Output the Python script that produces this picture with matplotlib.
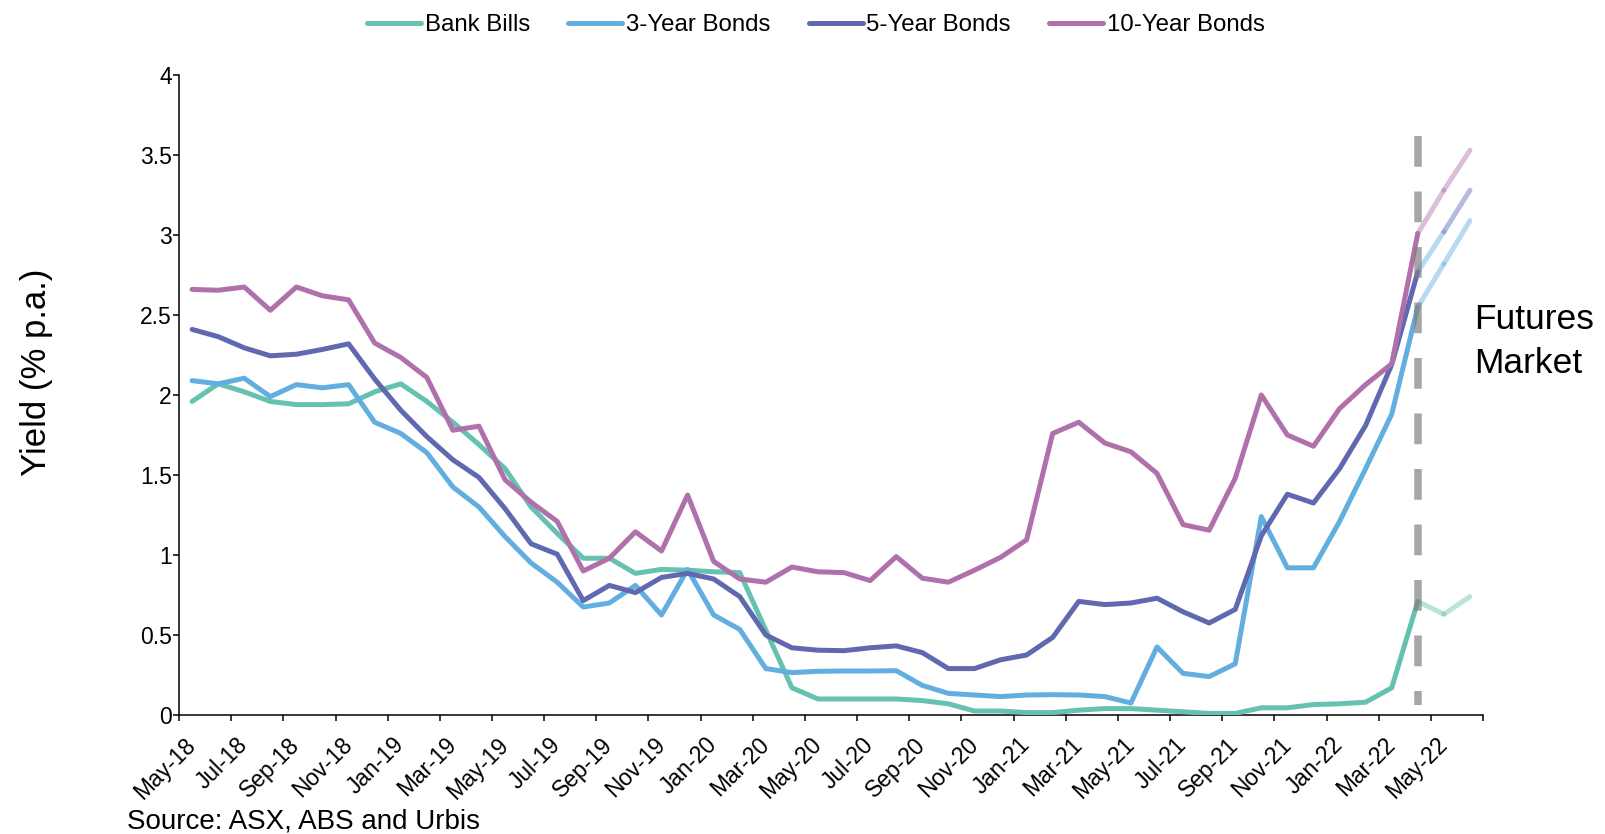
import numpy as np
import matplotlib.pyplot as plt

plt.rcParams['font.family'] = ['Liberation Sans', 'DejaVu Sans']

# Month-end yields, May-18 to Jun-22 (May-22 and Jun-22 are futures pricing)
months = ['May-18', 'Jun-18', 'Jul-18', 'Aug-18', 'Sep-18', 'Oct-18', 'Nov-18', 'Dec-18',
          'Jan-19', 'Feb-19', 'Mar-19', 'Apr-19', 'May-19', 'Jun-19', 'Jul-19', 'Aug-19',
          'Sep-19', 'Oct-19', 'Nov-19', 'Dec-19', 'Jan-20', 'Feb-20', 'Mar-20', 'Apr-20',
          'May-20', 'Jun-20', 'Jul-20', 'Aug-20', 'Sep-20', 'Oct-20', 'Nov-20', 'Dec-20',
          'Jan-21', 'Feb-21', 'Mar-21', 'Apr-21', 'May-21', 'Jun-21', 'Jul-21', 'Aug-21',
          'Sep-21', 'Oct-21', 'Nov-21', 'Dec-21', 'Jan-22', 'Feb-22', 'Mar-22', 'Apr-22',
          'May-22', 'Jun-22']

bank_bills = [1.96, 2.07, 2.02, 1.96, 1.94, 1.94, 1.945, 2.02, 2.07, 1.96,
              1.83, 1.69, 1.54, 1.30, 1.135, 0.98, 0.98, 0.885, 0.91, 0.905,
              0.895, 0.89, 0.53, 0.17, 0.10, 0.10, 0.10, 0.10, 0.09, 0.07,
              0.025, 0.025, 0.015, 0.015, 0.03, 0.04, 0.04, 0.03, 0.02, 0.01,
              0.01, 0.045, 0.045, 0.065, 0.07, 0.08, 0.17, 0.71, 0.63, 0.74]

bonds_3y = [2.09, 2.07, 2.105, 1.99, 2.065, 2.045, 2.065, 1.83, 1.76, 1.64,
            1.425, 1.30, 1.115, 0.95, 0.83, 0.675, 0.70, 0.81, 0.625, 0.91,
            0.625, 0.535, 0.29, 0.265, 0.273, 0.275, 0.275, 0.277, 0.185, 0.135,
            0.125, 0.115, 0.125, 0.127, 0.125, 0.115, 0.075, 0.425, 0.26, 0.24,
            0.32, 1.24, 0.92, 0.92, 1.21, 1.54, 1.88, 2.55, 2.82, 3.09]

bonds_5y = [2.41, 2.365, 2.295, 2.245, 2.255, 2.285, 2.32, 2.10, 1.905, 1.74,
            1.595, 1.485, 1.29, 1.07, 1.005, 0.715, 0.81, 0.765, 0.86, 0.885,
            0.85, 0.74, 0.50, 0.42, 0.405, 0.402, 0.42, 0.432, 0.39, 0.29,
            0.29, 0.345, 0.375, 0.485, 0.71, 0.69, 0.70, 0.73, 0.645, 0.575,
            0.66, 1.12, 1.38, 1.325, 1.54, 1.81, 2.19, 2.77, 3.02, 3.28]

bonds_10y = [2.66, 2.655, 2.675, 2.53, 2.675, 2.62, 2.595, 2.325, 2.235, 2.11,
             1.78, 1.805, 1.47, 1.33, 1.21, 0.90, 0.98, 1.145, 1.025, 1.375,
             0.96, 0.85, 0.83, 0.925, 0.895, 0.89, 0.84, 0.99, 0.855, 0.83,
             0.905, 0.985, 1.095, 1.76, 1.83, 1.70, 1.645, 1.51, 1.19, 1.155,
             1.48, 2.0, 1.75, 1.68, 1.915, 2.065, 2.195, 3.01, 3.28, 3.53]

last_actual = 47  # Apr-22

teal = '#66C2B0'
sky = '#62AEE0'
indigo = '#6068B0'
plum = '#B070AC'

# name, values, line colour, colours of the two futures segments
series = [
    ('Bank Bills', bank_bills, teal, [teal, teal]),
    ('3-Year Bonds', bonds_3y, sky, [sky, sky]),
    ('5-Year Bonds', bonds_5y, indigo, [sky, indigo]),
    ('10-Year Bonds', bonds_10y, plum, [plum, plum]),
]

fig = plt.figure(figsize=(16.06, 8.34), dpi=100)
ax = fig.add_axes([0.1115, 0.1427, 0.8119, 0.7673])

x = np.arange(len(months))
lw = 3.6

for name, vals, col, fut_cols in series:
    vals = np.array(vals)
    ax.plot(x[:last_actual + 1], vals[:last_actual + 1], color=col, lw=lw,
            solid_joinstyle='round', solid_capstyle='round', label=name, zorder=3)
    for k, fc in enumerate(fut_cols):
        i = last_actual + k
        ax.plot(x[i:i + 2], vals[i:i + 2], color=fc, lw=lw, alpha=0.45,
                solid_capstyle='round', zorder=2)

# divider between observed yields and futures
ax.plot([last_actual, last_actual], [3.62, 0.06], color='#808080', alpha=0.7,
        lw=5.4, linestyle=(0, (4.1, 3.3)), dash_capstyle='butt', zorder=4)

ax.set_xlim(-0.5, len(months) - 0.5)
ax.set_ylim(0, 4)

for s in ['top', 'right']:
    ax.spines[s].set_visible(False)
for s in ['left', 'bottom']:
    ax.spines[s].set_linewidth(1.1)

ax.set_yticks(np.arange(0, 4.01, 0.5))
ax.set_yticklabels(['0', '0.5', '1', '1.5', '2', '2.5', '3', '3.5', '4'])
ax.tick_params(axis='y', direction='out', length=4.3, width=1.1, labelsize=16.5, pad=1)

ax.set_xticks(np.arange(-0.5, len(months), 2))
ax.set_xticklabels([])
ax.tick_params(axis='x', which='major', direction='out', length=4.3, width=1.1)
ax.set_xticks(x[::2], labels=months[::2], minor=True)
ax.tick_params(axis='x', which='minor', length=0, labelsize=16.5, pad=19)
for lbl in ax.get_xticklabels(minor=True):
    lbl.set_rotation(45)
    lbl.set_ha('right')
    lbl.set_va('center')
    lbl.set_rotation_mode('anchor')

fig.text(37 / 1606, 1 - 372 / 834, 'Yield (% p.a.)', rotation=90,
         ha='center', va='center', fontsize=25)
fig.text(127 / 1606, 1 - 829 / 834, 'Source: ASX, ABS and Urbis',
         ha='left', va='baseline', fontsize=20)
fig.text(1474 / 1606, 1 - 303 / 834, 'Futures\nMarket', ha='left', va='top',
         fontsize=25.5, linespacing=1.42)

fig.legend(loc='center', bbox_to_anchor=(0.508, 0.970), ncol=4, frameon=False,
           fontsize=17.3, handlelength=2.25, handletextpad=0.15, columnspacing=1.6)

fig.savefig('out.png', dpi=100)
